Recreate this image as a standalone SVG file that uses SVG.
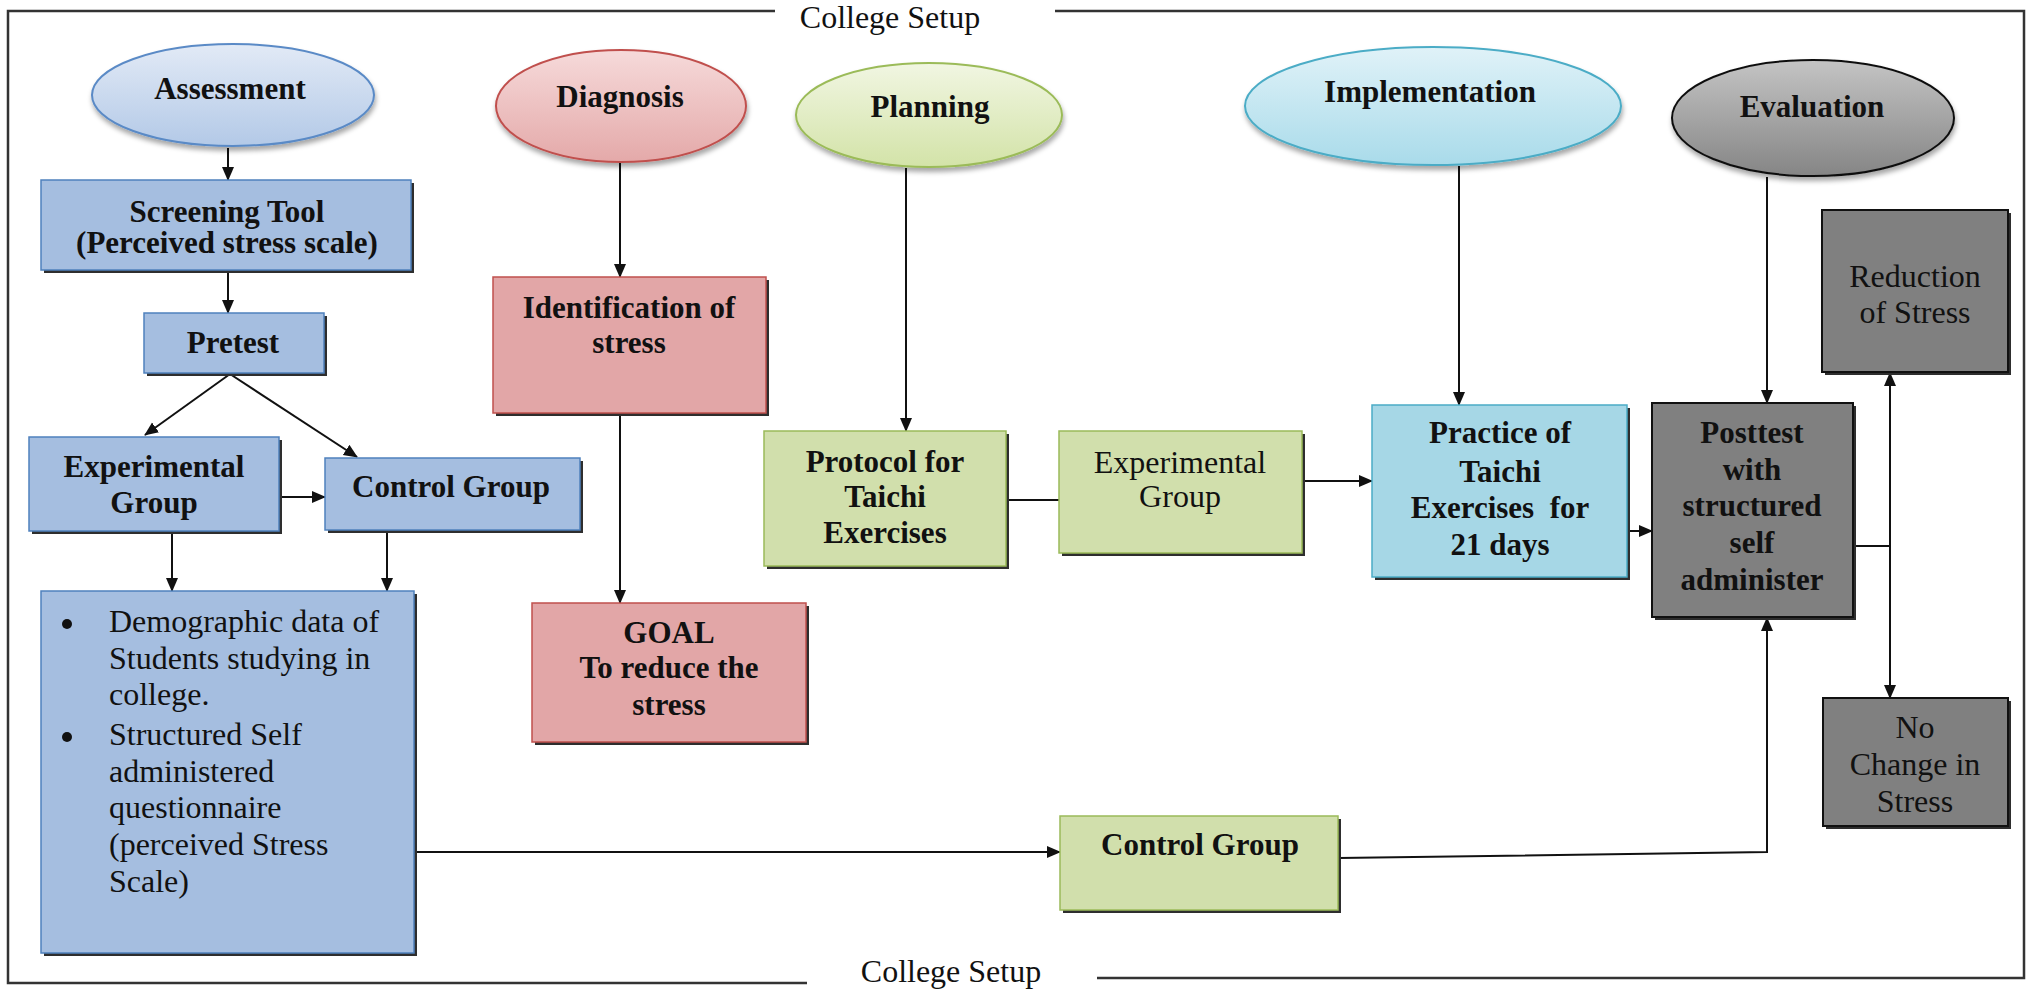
<svg xmlns="http://www.w3.org/2000/svg" width="2028" height="990" viewBox="0 0 2028 990">
<defs>
<style>
text{font-family:"Liberation Serif","Times New Roman",serif;fill:#111;text-anchor:middle}
.b{font-weight:bold;font-size:31px}
.r{font-size:32px}
.ln{stroke:#111;stroke-width:2;fill:none}
.frame{stroke:#333;stroke-width:2.5;fill:none}
.sh{fill:#2e2e2e}
.blue{fill:#a5bee0;stroke:#4f81bd;stroke-width:1.5}
.pink{fill:#e2a6a7;stroke:#c0504d;stroke-width:1.5}
.green{fill:#d1dfac;stroke:#9bbb59;stroke-width:1.5}
.cyan{fill:#a6d7e6;stroke:#4bacc6;stroke-width:1.5}
.gray{fill:#808080;stroke:#111;stroke-width:2}
.arr{marker-end:url(#ah)}
</style>
<marker id="ah" markerUnits="userSpaceOnUse" markerWidth="14" markerHeight="14" viewBox="0 0 14 14" refX="13" refY="7" orient="auto">
<path d="M0,1 L14,7 L0,13 Z" fill="#111"/>
</marker>
<filter id="es" x="-10%" y="-10%" width="120%" height="130%">
<feDropShadow dx="1" dy="4" stdDeviation="2.5" flood-color="#000" flood-opacity="0.35"/>
</filter>
<linearGradient id="gBlue" x1="0" y1="0" x2="0" y2="1"><stop offset="0" stop-color="#e2eaf6"/><stop offset="1" stop-color="#b3c9e7"/></linearGradient>
<linearGradient id="gPink" x1="0" y1="0" x2="0" y2="1"><stop offset="0" stop-color="#f6dada"/><stop offset="1" stop-color="#e4a9a9"/></linearGradient>
<linearGradient id="gGreen" x1="0" y1="0" x2="0" y2="1"><stop offset="0" stop-color="#f1f6e2"/><stop offset="1" stop-color="#d3e3a8"/></linearGradient>
<linearGradient id="gCyan" x1="0" y1="0" x2="0" y2="1"><stop offset="0" stop-color="#e0f2f8"/><stop offset="1" stop-color="#a9dbea"/></linearGradient>
<linearGradient id="gGray" x1="0" y1="0" x2="0" y2="1"><stop offset="0" stop-color="#c4c4c4"/><stop offset="1" stop-color="#858585"/></linearGradient>
</defs>
<rect x="0" y="0" width="2028" height="990" fill="#fff"/>

<g id="frame">
<path class="frame" d="M775,11 L8,11 L8,983 L807,983"/>
<path class="frame" d="M1055,11 L2024,11 L2024,978 L1097,978"/>
<text class="r" x="890" y="28">College Setup</text>
<text class="r" x="951" y="982">College Setup</text>
</g>

<g id="connectors">
<line class="ln arr" x1="228" y1="148" x2="228" y2="180"/>
<line class="ln arr" x1="228" y1="270" x2="228" y2="313"/>
<line class="ln arr" x1="230" y1="374" x2="145" y2="435"/>
<line class="ln arr" x1="230" y1="374" x2="357" y2="457"/>
<line class="ln arr" x1="280" y1="497" x2="325" y2="497"/>
<line class="ln arr" x1="172" y1="532" x2="172" y2="591"/>
<line class="ln arr" x1="387" y1="531" x2="387" y2="591"/>
<line class="ln arr" x1="414" y1="852" x2="1060" y2="852"/>
<line class="ln arr" x1="620" y1="163" x2="620" y2="277"/>
<line class="ln arr" x1="620" y1="414" x2="620" y2="603"/>
<line class="ln arr" x1="906" y1="168" x2="906" y2="431"/>
<line class="ln" x1="1007" y1="500" x2="1059" y2="500"/>
<line class="ln arr" x1="1303" y1="481" x2="1372" y2="481"/>
<line class="ln arr" x1="1459" y1="166" x2="1459" y2="405"/>
<line class="ln arr" x1="1628" y1="531" x2="1652" y2="531"/>
<line class="ln arr" x1="1767" y1="177" x2="1767" y2="403"/>
<polyline class="ln arr" points="1339,858 1767,852 1767,618"/>
<line class="ln" x1="1854" y1="546" x2="1890" y2="546"/>
<line class="ln arr" x1="1890" y1="546" x2="1890" y2="373"/>
<line class="ln arr" x1="1890" y1="546" x2="1890" y2="698"/>
</g>

<g id="assessment">
<ellipse cx="233" cy="95" rx="141" ry="51" fill="url(#gBlue)" stroke="#5a8ac6" stroke-width="2" filter="url(#es)"/>
<text class="b" x="230" y="99">Assessment</text>
</g>
<g id="diagnosis">
<ellipse cx="621" cy="106" rx="125" ry="56" fill="url(#gPink)" stroke="#c0504d" stroke-width="2" filter="url(#es)"/>
<text class="b" x="620" y="107">Diagnosis</text>
</g>
<g id="planning">
<ellipse cx="929" cy="115" rx="133" ry="52" fill="url(#gGreen)" stroke="#9bbb59" stroke-width="2" filter="url(#es)"/>
<text class="b" x="930" y="117">Planning</text>
</g>
<g id="implementation">
<ellipse cx="1433" cy="106" rx="188" ry="59" fill="url(#gCyan)" stroke="#4bacc6" stroke-width="2" filter="url(#es)"/>
<text class="b" x="1430" y="102">Implementation</text>
</g>
<g id="evaluation">
<ellipse cx="1813" cy="118" rx="141" ry="58" fill="url(#gGray)" stroke="#111" stroke-width="2" filter="url(#es)"/>
<text class="b" x="1812" y="117">Evaluation</text>
</g>

<g id="screening">
<rect class="sh" x="44" y="183" width="370" height="90"/>
<rect class="blue" x="41" y="180" width="370" height="90"/>
<text class="b" x="227" y="222">Screening Tool</text>
<text class="b" x="227" y="253">(Perceived stress scale)</text>
</g>
<g id="pretest">
<rect class="sh" x="147" y="316" width="180" height="60"/>
<rect class="blue" x="144" y="313" width="180" height="60"/>
<text class="b" x="233" y="353">Pretest</text>
</g>
<g id="exp-group-1">
<rect class="sh" x="32" y="440" width="250" height="94"/>
<rect class="blue" x="29" y="437" width="250" height="94"/>
<text class="b" x="154" y="477">Experimental</text>
<text class="b" x="154" y="513">Group</text>
</g>
<g id="control-group-1">
<rect class="sh" x="328" y="461" width="255" height="72"/>
<rect class="blue" x="325" y="458" width="255" height="72"/>
<text class="b" x="451" y="497">Control Group</text>
</g>
<g id="demographic">
<rect class="sh" x="44" y="594" width="373" height="362"/>
<rect class="blue" x="41" y="591" width="373" height="362"/>
<circle cx="67" cy="624" r="5" fill="#111"/>
<circle cx="67" cy="737" r="5" fill="#111"/>
<g style="text-anchor:start">
<text class="r" x="109" y="632" style="text-anchor:start">Demographic data of</text>
<text class="r" x="109" y="669" style="text-anchor:start">Students studying in</text>
<text class="r" x="109" y="705" style="text-anchor:start">college.</text>
<text class="r" x="109" y="745" style="text-anchor:start">Structured Self</text>
<text class="r" x="109" y="782" style="text-anchor:start">administered</text>
<text class="r" x="109" y="818" style="text-anchor:start">questionnaire</text>
<text class="r" x="109" y="855" style="text-anchor:start">(perceived Stress</text>
<text class="r" x="109" y="892" style="text-anchor:start">Scale)</text>
</g>
</g>
<g id="identification">
<rect class="sh" x="496" y="280" width="273" height="136"/>
<rect class="pink" x="493" y="277" width="273" height="136"/>
<text class="b" x="629" y="318">Identification of</text>
<text class="b" x="629" y="353">stress</text>
</g>
<g id="goal">
<rect class="sh" x="535" y="606" width="274" height="139"/>
<rect class="pink" x="532" y="603" width="274" height="139"/>
<text class="b" x="669" y="643">GOAL</text>
<text class="b" x="669" y="678">To reduce the</text>
<text class="b" x="669" y="715">stress</text>
</g>
<g id="protocol">
<rect class="sh" x="767" y="434" width="242" height="135"/>
<rect class="green" x="764" y="431" width="242" height="135"/>
<text class="b" x="885" y="472">Protocol for</text>
<text class="b" x="885" y="507">Taichi</text>
<text class="b" x="885" y="543">Exercises</text>
</g>
<g id="exp-group-2">
<rect class="sh" x="1062" y="434" width="243" height="122"/>
<rect class="green" x="1059" y="431" width="243" height="122"/>
<text class="r" x="1180" y="473">Experimental</text>
<text class="r" x="1180" y="507">Group</text>
</g>
<g id="control-group-2">
<rect class="sh" x="1063" y="819" width="278" height="94"/>
<rect class="green" x="1060" y="816" width="278" height="94"/>
<text class="b" x="1200" y="855">Control Group</text>
</g>
<g id="practice">
<rect class="sh" x="1375" y="408" width="255" height="172"/>
<rect class="cyan" x="1372" y="405" width="255" height="172"/>
<text class="b" x="1500" y="443">Practice of</text>
<text class="b" x="1500" y="482">Taichi</text>
<text class="b" x="1500" y="518" xml:space="preserve">Exercises  for</text>
<text class="b" x="1500" y="555">21 days</text>
</g>
<g id="posttest">
<rect class="sh" x="1655" y="406" width="201" height="214"/>
<rect class="gray" x="1652" y="403" width="201" height="214"/>
<text class="b" x="1752" y="443">Posttest</text>
<text class="b" x="1752" y="480">with</text>
<text class="b" x="1752" y="516">structured</text>
<text class="b" x="1752" y="553">self</text>
<text class="b" x="1752" y="590">administer</text>
</g>
<g id="reduction">
<rect class="sh" x="1825" y="213" width="186" height="162"/>
<rect class="gray" x="1822" y="210" width="186" height="162"/>
<text class="r" x="1915" y="287">Reduction</text>
<text class="r" x="1915" y="323">of Stress</text>
</g>
<g id="no-change">
<rect class="sh" x="1826" y="701" width="185" height="128"/>
<rect class="gray" x="1823" y="698" width="185" height="128"/>
<text class="r" x="1915" y="738">No</text>
<text class="r" x="1915" y="775">Change in</text>
<text class="r" x="1915" y="812">Stress</text>
</g>
</svg>
